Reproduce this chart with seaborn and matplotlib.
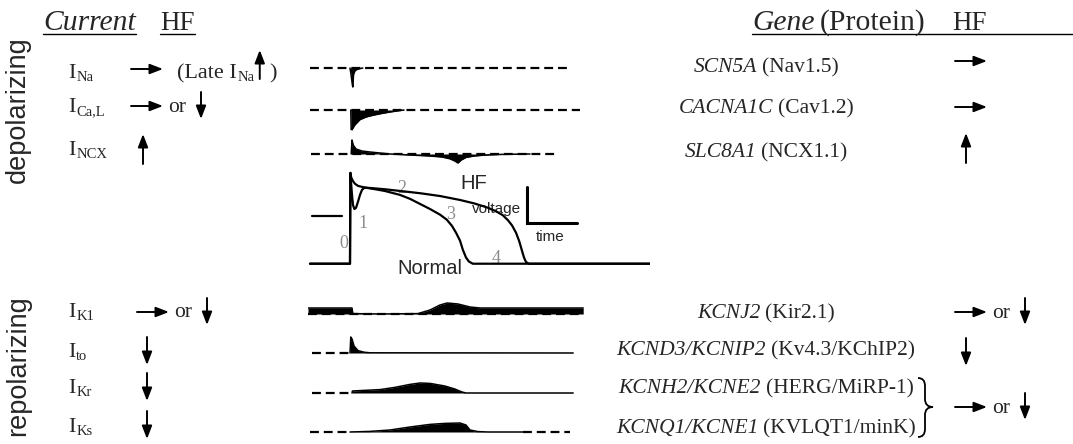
import matplotlib
matplotlib.use("Agg")
import matplotlib.pyplot as plt
import pandas as pd
import seaborn as sns
from matplotlib.path import Path
from matplotlib.patches import PathPatch

# ---------------------------------------------------------------- data
# Action potentials: time (ms from upstroke) and membrane potential (mV)
ap_normal_t = [-100, 0, 1, 2.5, 5, 7.5, 11, 15, 20, 25, 30, 37, 55, 87, 125, 150,
               175, 200, 225, 242, 255, 265, 275, 282, 290, 297, 307, 750]
ap_normal_v = [-85, -85, 76, 60, 37, 19, 12, 14, 25, 37, 46, 50, 48, 44, 37, 30,
               21, 12, 2, -7, -18, -30, -44, -60, -74, -81, -85, -85]
ap_hf_t = [-100, 0, 1, 3, 7, 12, 20, 37, 55, 87, 125, 175, 225, 275, 310, 342,
           365, 382, 395, 405, 415, 423, 430, 435, 440, 447, 750]
ap_hf_v = [-85, -85, 76, 68, 62, 57, 53, 50, 49, 47, 44, 40, 35, 28, 22, 15,
           8, 1, -8, -17, -30, -45, -62, -74, -82, -85, -85]

# Ionic currents (normalised amplitude, outward positive) over the same time axis
ina_t = [0, 2, 4, 6, 7, 9, 13, 20, 32]
ina_i = [0, -0.25, -0.55, -0.85, -0.95, -0.3, -0.12, -0.05, 0]
ica_t = [2, 3, 6, 12, 25, 40, 60, 80, 100, 120, 135]
ica_i = [0, -1.05, -0.95, -0.75, -0.48, -0.35, -0.25, -0.17, -0.1, -0.04, 0]
incx_t = [3, 5, 8, 15, 30, 50, 75, 100, 150, 200, 230, 250, 262, 270, 278, 290,
          310, 340, 380, 450]
incx_i = [0, 0.7, 0.45, 0.25, 0.15, 0.1, 0.05, 0.0, -0.05, -0.1, -0.15, -0.24,
          -0.35, -0.45, -0.3, -0.17, -0.1, -0.05, -0.02, 0]
ik1_t = [-105, 5, 7, 75, 170, 200, 225, 243, 270, 300, 325, 583]
ik1_i = [0.3, 0.3, 0.02, 0.0, 0.02, 0.2, 0.45, 0.55, 0.5, 0.35, 0.3, 0.3]
ito_t = [0, 2, 5, 10, 20, 35, 50, 558]
ito_i = [0, 0.8, 0.7, 0.35, 0.12, 0.04, 0.01, 0]
ikr_t = [5, 6, 25, 75, 112, 150, 175, 200, 237, 262, 280, 290, 558]
ikr_i = [0, 0.1, 0.12, 0.17, 0.28, 0.43, 0.5, 0.48, 0.35, 0.2, 0.05, 0, 0]
iks_t = [0, 50, 100, 150, 200, 237, 275, 290, 300, 320, 345, 432]
iks_i = [0, 0.03, 0.1, 0.25, 0.38, 0.43, 0.45, 0.35, 0.1, 0.02, 0, 0]

# Zero-current reference segments (ms) drawn dashed for each trace
ina_ref = [(-100, 550)]
ica_ref = [(-100, 575)]
incx_ref = [(-97, 520)]
ik1_ref = [(-105, 583)]
ito_ref = [(-95, 0)]
ikr_ref = [(-95, 5)]
iks_ref = [(-100, 0), (432, 550)]

# Table text
current_subs = ["Na", "Ca,L", "NCX", "K1", "to", "Kr", "Ks"]
genes = ["SCN5A", "CACNA1C", "SLC8A1", "KCNJ2", "KCND3/KCNIP2", "KCNH2/KCNE2", "KCNQ1/KCNE1"]
proteins = ["Nav1.5", "Cav1.2", "NCX1.1", "Kir2.1", "Kv4.3/KChIP2", "HERG/MiRP-1", "KVLQT1/minK"]
current_hf = ["right", "right_or_down", "up", "right_or_down", "down", "down", "down"]
gene_hf = ["right", "right", "up", "right_or_down", "down", "right_or_down", None]
phase_labels = ["0", "1", "2", "3", "4"]

# Scale bar (mV, ms) and 0 mV marker
scale_t, scale_v = 442, -12.5
scale_dv, scale_dt = 63.5, 125

# ---------------------------------------------------------------- style
sns.set_theme(style="white")
SERIF = ["Liberation Serif", "DejaVu Serif"]
SANS = ["Liberation Sans", "DejaVu Sans"]
plt.rcParams["font.family"] = SERIF

W, H = 1073, 444
fig = plt.figure(figsize=(W / 100, H / 100), dpi=100, facecolor="white")
ax = fig.add_axes([0, 0, 1, 1])
ax.set_xlim(0, W)
ax.set_ylim(H, 0)
ax.axis("off")
renderer = fig.canvas.get_renderer()

T_LO, T_HI = -105, 750
TRACE_X0, TRACE_X1 = 308, 650


def px_axes(yc, h):
    a = fig.add_axes([TRACE_X0 / W, 1 - (yc + h / 2) / H,
                      (TRACE_X1 - TRACE_X0) / W, h / H])
    a.set_facecolor("none")
    a.axis("off")
    a.set_xlim(T_LO, T_HI)
    return a


def text_w(t):
    return t.get_window_extent(renderer).width


def arrow(x0, y0, x1, y1):
    ax.annotate("", xy=(x1, y1), xytext=(x0, y0),
                arrowprops=dict(arrowstyle="-|>,head_length=0.65,head_width=0.25",
                                lw=1.4, color="black", shrinkA=0, shrinkB=0,
                                mutation_scale=12))


def hf_mark(kind, x, yc, base):
    if kind == "right":
        arrow(x, yc, x + 32, yc)
    elif kind == "up":
        arrow(x, yc + 15, x, yc - 15)
    elif kind == "down":
        arrow(x, yc - 14, x, yc + 14)
    elif kind == "right_or_down":
        arrow(x, yc, x + 32, yc)
        ax.text(x + 37, base, "or", fontsize=15.5, va="baseline", ha="left")
        arrow(x + 70, yc - 14, x + 70, yc + 13)


# ---------------------------------------------------------------- headers
fs_head = 21.3
fs_hf = 19.5
t = ax.text(43, 30, "Current", style="italic", fontsize=fs_head, va="baseline")
ax.plot([43, 43 + text_w(t)], [34, 34], color="black", lw=1.0)
t = ax.text(160, 30, "HF", fontsize=fs_hf, va="baseline")
ax.plot([160, 160 + text_w(t)], [34, 34], color="black", lw=1.0)

t1 = ax.text(752, 30, "Gene", style="italic", fontsize=fs_head, va="baseline")
ax.text(752 + text_w(t1) + 5, 30, "(Protein)", fontsize=fs_head, va="baseline")
ax.text(952, 30, "HF", fontsize=fs_hf, va="baseline")
ax.plot([752, W], [34, 34], color="black", lw=1.0)

ax.text(18, 110, "depolarizing", family=SANS, fontsize=19.5, rotation=90,
        ha="center", va="center")
ax.text(18, 366, "repolarizing", family=SANS, fontsize=19.5, rotation=90,
        ha="center", va="center")

# ---------------------------------------------------------------- left column
label_base = [78, 112, 155, 317, 357, 393, 432]
left_arrow_y = [69, 106, 149, 312, 351, 387, 425]
left_arrow_x = [131, 131, 143, 137, 147, 147, 147]
for sub, base, yc, xa, kind in zip(current_subs, label_base, left_arrow_y,
                                   left_arrow_x, current_hf):
    t = ax.text(68, base, "I", fontsize=16, va="baseline")
    ax.text(68 + text_w(t) + 1, base + 3, sub, fontsize=10.5, va="baseline")
    hf_mark(kind, xa, yc, base)

# "(Late I_Na ↑)" annotation
t = ax.text(177, 78, "(Late I", fontsize=16, va="baseline")
xs = 177 + text_w(t) + 1
t = ax.text(xs, 81, "Na", fontsize=10.5, va="baseline")
xa = xs + text_w(t) + 5
arrow(xa, 79, xa, 50)
ax.text(xa + 9, 78, ")", fontsize=16, va="baseline")

# ---------------------------------------------------------------- right column
gene_base = [72, 113, 157, 318, 355, 393, 433]
right_arrow_y = [61, 107, 148, 312, 352, 407, None]
for g, p, base in zip(genes, proteins, gene_base):
    t1 = ax.text(0, base, g, style="italic", fontsize=15.5, va="baseline")
    t2 = ax.text(0, base, "(" + p + ")", fontsize=15.5, va="baseline")
    w1, w2 = text_w(t1), text_w(t2)
    gap = 5
    x0 = 766 - (w1 + gap + w2) / 2
    t1.set_x(x0)
    t2.set_x(x0 + w1 + gap)

for kind, yc, base in zip(gene_hf, right_arrow_y, [67, 113, 157, 318, 357, 413, None]):
    if kind is None:
        continue
    x = 966 if kind in ("up", "down") else 955
    hf_mark(kind, x, yc, base)

# brace grouping the two delayed-rectifier genes
brace = Path([(918, 378), (925, 378), (925, 386), (925, 399), (925, 407), (933, 407),
              (925, 407), (925, 415), (925, 429), (925, 437), (918, 437)],
             [Path.MOVETO, Path.CURVE3, Path.CURVE3, Path.LINETO, Path.CURVE3,
              Path.CURVE3, Path.CURVE3, Path.CURVE3, Path.LINETO, Path.CURVE3,
              Path.CURVE3])
ax.add_patch(PathPatch(brace, fill=False, lw=1.3, color="black"))

# ---------------------------------------------------------------- current traces
traces = [
    (68, ina_t, ina_i, ina_ref),
    (110, ica_t, ica_i, ica_ref),
    (154, incx_t, incx_i, incx_ref),
    (314, ik1_t, ik1_i, ik1_ref),
    (353, ito_t, ito_i, ito_ref),
    (393, ikr_t, ikr_i, ikr_ref),
    (432, iks_t, iks_i, iks_ref),
]
for yc, tt, ii, refs in traces:
    a = px_axes(yc, 40)
    a.set_ylim(-1, 1)
    for s, e in refs:
        a.plot([s, e], [0, 0], color="black", lw=1.6, dashes=(4, 2.2))
    a.fill_between(tt, ii, 0, color="black", lw=0)
    sns.lineplot(x=tt, y=ii, ax=a, color="black", lw=1.1,
                 estimator=None, sort=False)

# ---------------------------------------------------------------- action potentials
ap = pd.concat([
    pd.DataFrame({"t": ap_normal_t, "v": ap_normal_v, "cond": "Normal"}),
    pd.DataFrame({"t": ap_hf_t, "v": ap_hf_v, "cond": "HF"}),
])
a = px_axes(220, 110)
a.set_ylim(-105, 90)
sns.lineplot(data=ap, x="t", y="v", hue="cond", units="cond",
             palette={"Normal": "black", "HF": "black"}, legend=False,
             estimator=None, sort=False, lw=1.6, ax=a)
a.plot([-95, -20], [0, 0], color="black", lw=1.6)
a.plot([scale_t, scale_t, scale_t + scale_dt],
       [scale_v + scale_dv, scale_v, scale_v],
       color="black", lw=2.2, solid_joinstyle="miter")

for lab, (x, y) in zip(phase_labels, [(344, 243), (363, 223), (402, 188),
                                     (451, 214), (496, 258)]):
    ax.text(x, y, lab, color="#8c8c8c", fontsize=13, ha="center", va="center")

ax.text(474, 183, "HF", family=SANS, fontsize=14.5, ha="center", va="center")
ax.text(430, 268, "Normal", family=SANS, fontsize=14.5, ha="center", va="center")
ax.text(497, 209, "voltage", family=SANS, fontsize=11, ha="center", va="center")
ax.text(550, 237, "time", family=SANS, fontsize=11, ha="center", va="center")

fig.savefig("out.png", dpi=100, facecolor="white")
